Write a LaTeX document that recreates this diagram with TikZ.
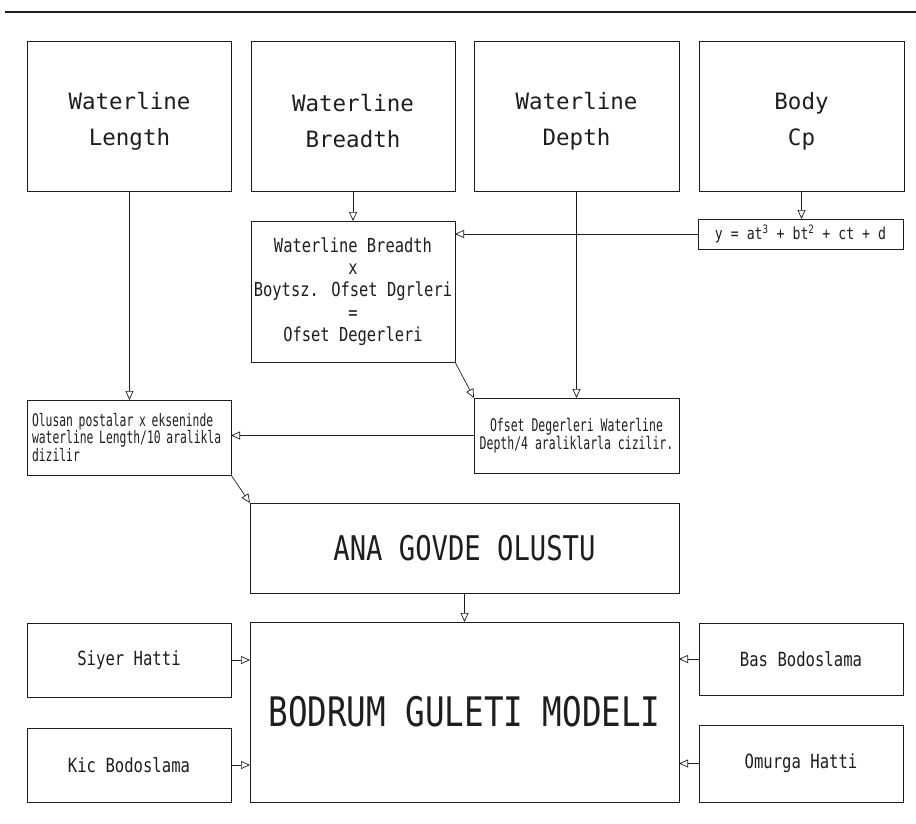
\documentclass[tikz,border=0pt]{standalone}
\usepackage{fontspec}
\newfontfamily\cadw{DejaVu Sans Mono}
\newfontfamily\cadm[FakeStretch=0.8]{DejaVu Sans Mono}
\newfontfamily\cadn[FakeStretch=0.66]{DejaVu Sans Mono}
\usetikzlibrary{arrows.meta}
\definecolor{ink}{HTML}{1E1E1E}
\begin{document}
\begin{tikzpicture}[x=1pt,y=-1pt,
  box/.style={draw=ink, line width=0.9pt, inner sep=0pt, outer sep=0pt, text=ink},
  topbox/.style={box, minimum width=204pt, minimum height=150pt},
  toptext/.style={font=\cadw\fontsize{22.5}{36}\selectfont, align=center, text=ink, inner sep=0pt},
  smallbox/.style={box, minimum width=204pt, font=\cadm\fontsize{19.5}{24}\selectfont},
  conn/.style={draw=ink, line width=0.7pt, -{Triangle[open,length=9pt,width=8pt]}}]
\fill[white] (0,0) rectangle (916,824);
\useasboundingbox (0,0) rectangle (916,824);
\draw[ink, line width=1.6pt] (5,12) -- (916,12);
% top row
\node[topbox] (wl) at (129.5,116) {};
\node[toptext] (wlt) at ([yshift=-5pt]wl.center) {Waterline\\Length};
\node[topbox] (wb) at (353,116) {};
\node[toptext] (wbt) at ([yshift=-5pt]wb.center) {Waterline\\Breadth};
\node[topbox, minimum width=205pt] (wd) at (576.5,116) {};
\node[toptext] (wdt) at ([yshift=-5pt]wd.center) {Waterline\\Depth};
\node[topbox, minimum width=205pt] (body) at (801.5,116) {};
\node[toptext] (bodyt) at ([yshift=-5pt]body.center) {Body\\Cp};
% second row
\node[box, minimum width=204pt, minimum height=141pt, align=center,
      font=\cadm\fontsize{19.3}{22.2}\selectfont] (res) at (353,291.5)
  {Waterline Breadth\\x\\Boytsz. Ofset Dgrleri\\=\\Ofset Degerleri};
\node[box, minimum width=205pt, minimum height=30pt,
      font=\cadm\fontsize{16.5}{20}\selectfont] (frm) at (800.5,234)
  {y = at\textsuperscript{3} + bt\textsuperscript{2} + ct + d};
% third row
\node[box, minimum width=204pt, minimum height=75pt, text width=194pt, align=left,
      font=\cadn\fontsize{17.2}{15.5}\selectfont] (pos) at (129,437.5)
  {Olusan postalar x ekseninde\\waterline Length/10 aralikla\\dizilir};
\node[box, minimum width=205pt, minimum height=75pt, align=center,
      font=\cadn\fontsize{17.4}{18}\selectfont] (ofs) at (576.5,435.5)
  {Ofset Degerleri Waterline\\Depth/4 araliklarla cizilir.};
% main bodies
\node[box, minimum width=429pt, minimum height=90pt,
      font=\cadm\fontsize{34}{40}\selectfont] (ana) at (464.5,548) {ANA GOVDE OLUSTU};
\node[box, minimum width=429pt, minimum height=180pt,
      font=\cadm\fontsize{40.7}{48}\selectfont] (bod) at (464.5,712) {BODRUM GULETI MODELI};
% side boxes
\node[smallbox, minimum height=74pt] (siy) at (129,660) {Siyer Hatti};
\node[smallbox, minimum height=74pt] (kic) at (129,765) {Kic Bodoslama};
\node[smallbox, minimum height=72pt] (bas) at (801,659) {Bas Bodoslama};
\node[smallbox, minimum height=77pt] (omu) at (801,763.5) {Omurga Hatti};
% connectors
\draw[conn] (wl.south) -- (wl.south |- pos.north);
\draw[conn] (wb.south) -- (wb.south |- res.north);
\draw[conn] (wd.south) -- (wd.south |- ofs.north);
\draw[conn] (body.south) -- (body.south |- frm.north);
\draw[conn] (frm.west) -- (frm.west -| res.east);
\draw[conn] (res.south east) -- (ofs.north west);
\draw[conn] (ofs.west) -- (ofs.west -| pos.east);
\draw[conn] (pos.south east) -- (ana.north west);
\draw[conn] (ana.south) -- (bod.north);
\draw[conn] (siy.east) -- (siy.east -| bod.west);
\draw[conn] (kic.east) -- (kic.east -| bod.west);
\draw[conn] (bas.west) -- (bas.west -| bod.east);
\draw[conn] (omu.west) -- (omu.west -| bod.east);
\end{tikzpicture}
\end{document}
